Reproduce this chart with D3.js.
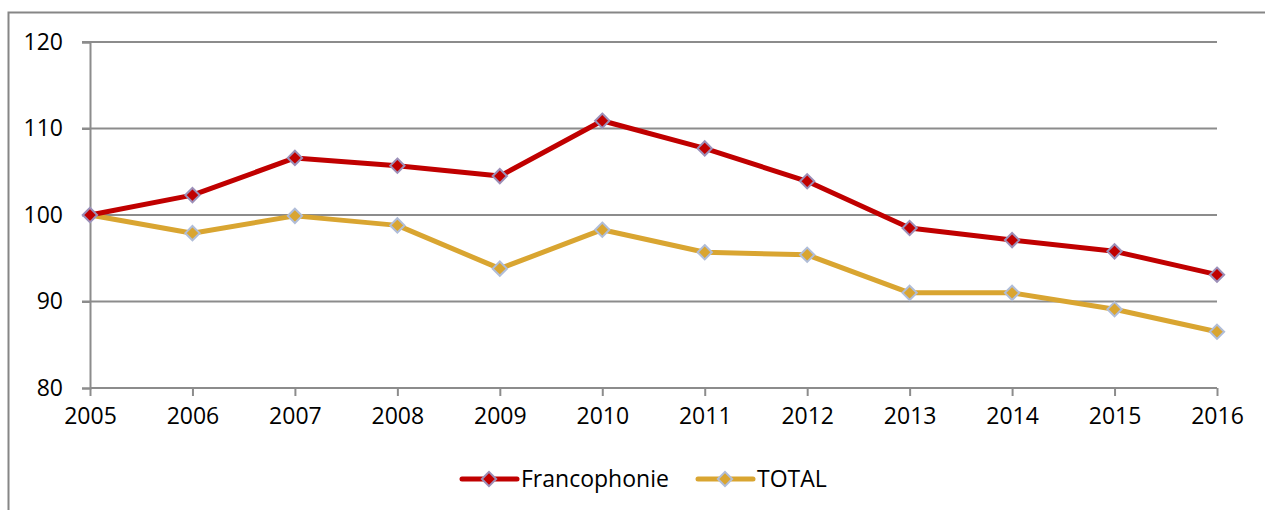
<!DOCTYPE html>
<meta charset="utf-8">
<script src="https://d3js.org/d3.v7.min.js"></script>
<style>
  body { margin: 0; background: #fff; }
  text { font-family: "Open Sans", sans-serif; fill: #000; }
</style>
<body>
<svg id="svg" width="1265" height="510"></svg>
<script>
// data
var years = [2005, 2006, 2007, 2008, 2009, 2010, 2011, 2012, 2013, 2014, 2015, 2016];
var francophonie = [100, 102.3, 106.6, 105.7, 104.5, 110.9, 107.7, 103.9, 98.5, 97.1, 95.8, 93.1];
var total = [100, 97.9, 99.9, 98.8, 93.8, 98.3, 95.7, 95.4, 91.0, 91.0, 89.1, 86.5];
var yTicks = [80, 90, 100, 110, 120];

var series = [
  { name: "Francophonie", values: francophonie, color: "#C00000", marker: "#C00000", edge: "#9C8FB8" },
  { name: "TOTAL", values: total, color: "#D9A531", marker: "#D9A531", edge: "#B0BDD8" }
];

var svg = d3.select("svg");

// outer chart border (only top and left visible)
svg.append("path")
  .attr("d", "M8.5,520 V12.5 H1275")
  .attr("fill", "none")
  .attr("stroke", "#868686")
  .attr("stroke-width", 2);

var x = d3.scalePoint().domain(years).range([90, 1217]);
var y = d3.scaleLinear().domain([80, 120]).range([388, 42]);

// horizontal grid
svg.append("g")
  .selectAll("line")
  .data(yTicks.slice(1))
  .enter().append("line")
  .attr("x1", 82).attr("x2", 1217)
  .attr("y1", function(d) { return y(d); })
  .attr("y2", function(d) { return y(d); })
  .attr("stroke", "#8C8C8C")
  .attr("stroke-width", 2);

// y axis
var yAxis = svg.append("g")
  .attr("transform", "translate(90,0)")
  .call(d3.axisLeft(y).tickValues(yTicks).tickSize(8).tickPadding(19));
yAxis.select(".domain").attr("stroke", "#8C8C8C").attr("stroke-width", 2);
yAxis.selectAll(".tick line").attr("stroke", "#8C8C8C").attr("stroke-width", 2);
yAxis.selectAll("text").style("font-size", "23px").attr("fill", "#000");

// x axis
var xAxis = svg.append("g")
  .attr("transform", "translate(0,388)")
  .call(d3.axisBottom(x).tickSize(8).tickPadding(12).tickFormat(d3.format("d")));
xAxis.select(".domain").attr("stroke", "#8C8C8C").attr("stroke-width", 2)
  .attr("d", "M90,0H1217");
xAxis.selectAll(".tick line").attr("stroke", "#8C8C8C").attr("stroke-width", 2);
xAxis.selectAll("text").style("font-size", "23px").attr("fill", "#000");

var line = d3.line()
  .x(function(d, i) { return x(years[i]); })
  .y(function(d) { return y(d); });

var diamond = d3.symbol().type(d3.symbolDiamond2).size(130);

// draw TOTAL first, then Francophonie over it
series.slice().reverse().forEach(function(s) {
  svg.append("path")
    .datum(s.values)
    .attr("d", line)
    .attr("fill", "none")
    .attr("stroke", s.color)
    .attr("stroke-width", 5)
    .attr("stroke-linejoin", "round");

  svg.append("g")
    .selectAll("path")
    .data(s.values)
    .enter().append("path")
    .attr("d", diamond)
    .attr("transform", function(d, i) { return "translate(" + x(years[i]) + "," + y(d) + ")"; })
    .attr("fill", s.marker)
    .attr("stroke", s.edge)
    .attr("stroke-width", 2);
});

// legend
var legendPos = [462, 698];
series.forEach(function(s, i) {
  var g = svg.append("g").attr("transform", "translate(" + legendPos[i] + ",479)");
  g.append("line")
    .attr("x1", 0).attr("x2", 55)
    .attr("stroke", s.color).attr("stroke-width", 5).attr("stroke-linecap", "round");
  g.append("path")
    .attr("d", diamond)
    .attr("transform", "translate(27,0)")
    .attr("fill", s.marker)
    .attr("stroke", s.edge)
    .attr("stroke-width", 2);
  g.append("text")
    .attr("x", 59).attr("dy", "0.35em")
    .style("font-size", "23px")
    .text(s.name);
});
</script>
</body>
